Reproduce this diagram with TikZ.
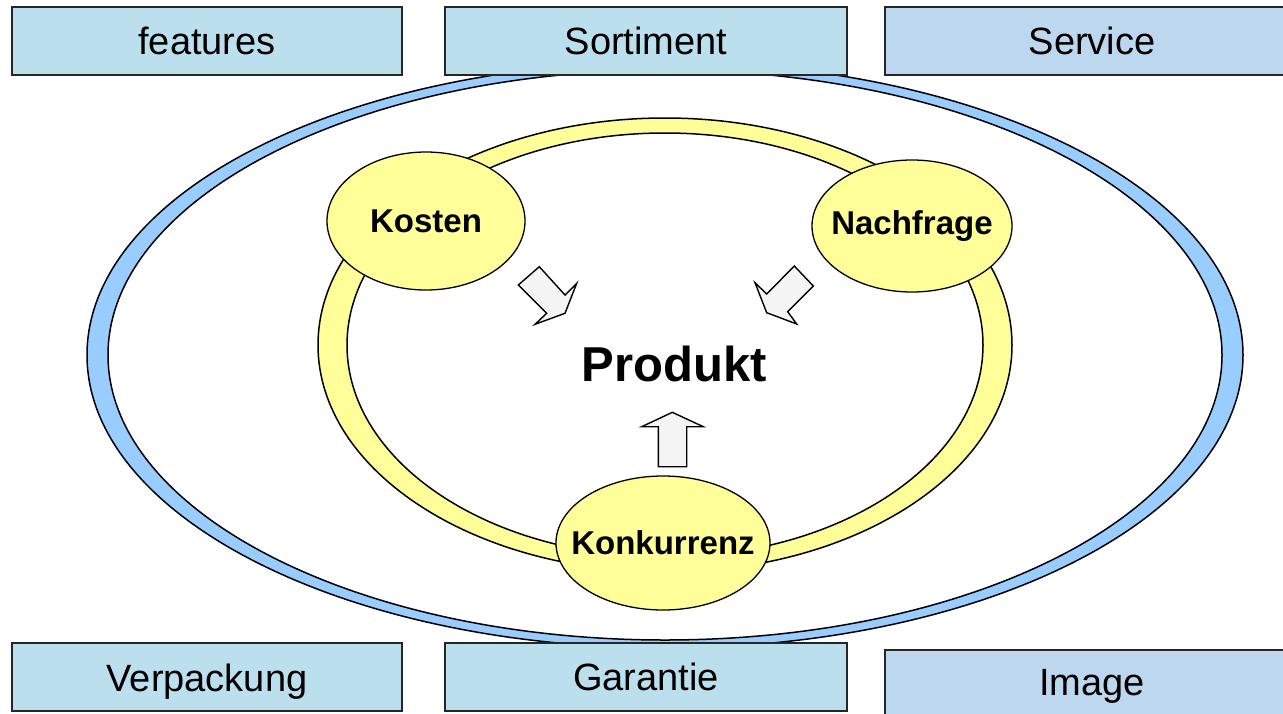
\documentclass[tikz,border=0pt]{standalone}
\usepackage{fontspec}
\setmainfont{Liberation Sans}
\usetikzlibrary{shapes.geometric}
\definecolor{boxblue}{RGB}{187,223,237}
\definecolor{boxblueb}{RGB}{189,215,238}
\definecolor{ringblue}{RGB}{153,204,255}
\definecolor{ringyellow}{RGB}{255,255,153}
\definecolor{arrowgray}{RGB}{244,244,244}
\tikzset{
  labelbox/.style={draw=black!85, line width=1.3pt, fill=boxblue, minimum height=68pt, inner sep=0pt, font=\fontsize{38}{40}\selectfont},
  factor/.style={ellipse, draw=black, line width=1.3pt, fill=ringyellow, inner sep=0pt},
  factortext/.style={inner sep=0pt, font=\bfseries\fontsize{33}{35}\selectfont},
  blockarrow/.style={draw=black, line width=1.4pt, fill=arrowgray, line join=miter},
  ringline/.style={draw=black, line width=1.5pt}
}
\begin{document}
\begin{tikzpicture}[x=1pt, y=-1pt]
\useasboundingbox (0,0) rectangle (1283,713);
\clip (0,0) rectangle (1283,713);
% outer blue ring
\path[ringline, fill=ringblue] (665,355) ellipse [x radius=578, y radius=293];
\path[ringline, fill=white] (665,355) ellipse [x radius=557, y radius=285];
% yellow ring
\path[ringline, fill=ringyellow] (665,345) ellipse [x radius=347, y radius=227];
\path[ringline, fill=white] (665,345) ellipse [x radius=318, y radius=212];
% factor ellipses
\node[factor, minimum width=198pt, minimum height=138pt] (kosten) at (426,221) {};
\node[factortext] (kostenlabel) at (kosten) {Kosten};
\node[factor, minimum width=200pt, minimum height=132pt] (nachfrage) at (912,226) {};
\node[factortext] (nachfragelabel) at (nachfrage) {Nachfrage};
\node[factor, minimum width=214pt, minimum height=134pt] (konkurrenz) at (663,543) {};
\node[factortext] (konkurrenzlabel) at (konkurrenz) {Konkurrenz};
% centre
\node[font=\bfseries\fontsize{49}{51}\selectfont, inner sep=0pt] (produkt) at (674,364) {Produkt};
% block arrows
\draw[blockarrow] (518.3,285) -- (539.3,266.7) -- (565,295) -- (576.7,283.3) -- (565,313.3) -- (535,324.3) -- (546.7,313.3) -- cycle;
\draw[blockarrow] (794.3,266) -- (813.3,286) -- (787.7,311.7) -- (796.7,324) -- (766.7,312.7) -- (755,282.7) -- (766.7,294) -- cycle;
\draw[blockarrow] (658.3,466.7) -- (686.7,466.7) -- (686.7,426.7) -- (703.3,426.7) -- (672.3,412.3) -- (641.7,426.7) -- (658.3,426.7) -- cycle;
% label boxes
\node[labelbox, minimum width=390pt] (features) at (207,41) {features};
\node[labelbox, minimum width=402pt] (sortiment) at (646,41) {Sortiment};
\node[labelbox, fill=boxblueb, minimum width=414pt] (service) at (1092,41) {Service};
\node[labelbox, minimum width=390pt, text depth=2pt] (verpackung) at (207,677) {\raisebox{-4pt}{Verpackung}};
\node[labelbox, minimum width=402pt] (garantie) at (646,677) {\raisebox{-3pt}{Garantie}};
\node[labelbox, fill=boxblueb, minimum width=414pt, minimum height=72pt] (image) at (1092,686) {Image};
\end{tikzpicture}
\end{document}
